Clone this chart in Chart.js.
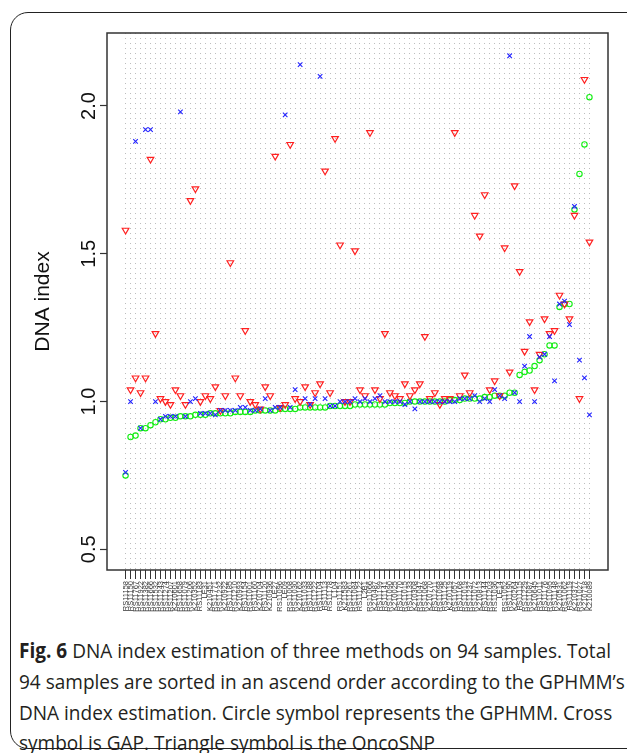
<!DOCTYPE html>
<html>
<head>
<meta charset="utf-8">
<script src="https://cdn.jsdelivr.net/npm/chart.js@4"></script>
<style>
  html, body { margin: 0; padding: 0; background: #fff; overflow: hidden; }
  body { width: 627px; height: 753px; position: relative; }
  #frame {
    position: absolute; left: 10px; top: 12px; width: 700px; height: 737px;
    border: 1.5px solid #222; border-radius: 18px; box-sizing: border-box;
  }
  #chart { position: absolute; left: 0; top: 0; }
  #caption {
    position: absolute; left: 19px; top: 635px;
    font-family: "Open Sans", sans-serif; font-size: 20.5px; line-height: 30.8px;
    color: #231f20; white-space: nowrap; transform-origin: 0 0;
  }
  #caption b { font-weight: 700; }
</style>
</head>
<body>
<div id="frame"></div>
<canvas id="chart" width="627" height="635"></canvas>
<div id="caption">
  <div id="line1"><b>Fig. 6</b> DNA index estimation of three methods on 94 samples. Total</div>
  <div>94 samples are sorted in an ascend order according to the GPHMM’s</div>
  <div>DNA index estimation. Circle symbol represents the GPHMM. Cross</div>
  <div>symbol is GAP. Triangle symbol is the OncoSNP</div>
</div>
<script>
// sample names (x axis), sorted by GPHMM estimate
const sampleNames = [
  'RS11158','RS11150','RS11767','RS11922','RS11382','RS11666','RS11532','RS11243','RS11274','RS11207',
  'K210601','RS11658','RS11079','RS11206','K210352','RS11183','LE31','K210451','RS11771','RS11232',
  'K210922','RS11185','RS11210','K210993','RS11154','RS11001','RS11160','K210704','RS11120','K210936',
  'LE27','RS11096','LE09','RS11008','RS11030','K210162','RS11033','RS11188','RS11222','RS11104',
  'RS11113','RS11178','L104','RS11151','K211583','RS11261','RS11084','RS11122','L2B1','RS11066',
  'K210487','RS11199','RS11141','RS11090','K210025','RS11170','RS11015','RS11133','K210308','RS11047',
  'RS11068','K210770','RS11211','RS11098','RS11125','K210119','RS11057','RS11168','RS11019','RS11237',
  'RS11072','K210813','RS11144','RS11203','RS11036','LE14','RS11052','RS11190','K210264','RS11115',
  'RS11229','RS11087','K210645','RS11011','RS11176','RS11095','RS11148','K210531','RS11062','RS11119',
  'K210377','RS11027','K210718','K210089'
];

// GPHMM (circles)
const gphmm = [
  0.75, 0.88, 0.885, 0.91, 0.91, 0.92, 0.93, 0.94, 0.94, 0.945,
  0.945, 0.95, 0.95, 0.95, 0.955, 0.955, 0.955, 0.96, 0.96, 0.96,
  0.96, 0.96, 0.965, 0.965, 0.965, 0.965, 0.97, 0.97, 0.97, 0.97,
  0.97, 0.975, 0.975, 0.975, 0.975, 0.98, 0.98, 0.98, 0.98, 0.98,
  0.98, 0.985, 0.985, 0.985, 0.985, 0.985, 0.99, 0.99, 0.99, 0.99,
  0.99, 0.99, 0.99, 0.995, 0.995, 0.995, 0.995, 1.0, 1.0, 1.0,
  1.0, 1.0, 1.0, 1.0, 1.0, 1.005, 1.005, 1.005, 1.01, 1.01,
  1.01, 1.01, 1.015, 1.015, 1.02, 1.02, 1.02, 1.03, 1.03, 1.09,
  1.10, 1.105, 1.12, 1.14, 1.16, 1.19, 1.19, 1.32, 1.33, 1.33,
  1.65, 1.77, 1.87, 2.03
];

// GAP (crosses)
const gap = [
  0.76, 1.00, 1.88, 0.91, 1.92, 1.92, 1.00, 0.94, 0.95, 0.95,
  0.95, 1.98, 0.95, 1.00, 1.01, 0.96, 0.96, 0.96, 0.955, 0.97,
  0.97, 0.97, 0.97, 0.98, 0.98, 0.97, 0.97, 0.975, 1.01, 0.97,
  0.98, 0.98, 1.97, 0.98, 1.04, 2.14, 1.01, 0.99, 1.01, 2.10,
  1.01, 0.985, 0.985, 1.00, 1.00, 1.00, 1.01, 1.00, 1.01, 1.00,
  1.01, 1.02, 1.00, 1.00, 1.00, 1.00, 0.99, 1.00, 0.975, 1.00,
  1.00, 1.00, 1.00, 1.00, 1.00, 1.00, 1.00, 1.01, 1.01, 1.01,
  1.02, 1.00, 1.01, 1.00, 1.04, 1.02, 1.01, 2.17, 1.03, 1.00,
  1.12, 1.22, 1.00, 1.15, 1.16, 1.22, 1.07, 1.33, 1.34, 1.26,
  1.66, 1.14, 1.08, 0.955
];

// OncoSNP (triangles)
const oncosnp = [
  1.58, 1.04, 1.08, 1.03, 1.08, 1.82, 1.23, 1.01, 1.00, 0.99,
  1.04, 1.02, 0.99, 1.68, 1.72, 1.00, 1.02, 1.01, 1.05, 0.97,
  1.02, 1.47, 1.08, 1.02, 1.24, 1.00, 0.99, 0.975, 1.05, 1.02,
  1.83, 0.98, 0.99, 1.87, 1.01, 1.00, 1.05, 0.99, 1.03, 1.06,
  1.78, 1.03, 1.89, 1.53, 1.00, 1.00, 1.51, 1.04, 1.02, 1.91,
  1.04, 1.01, 1.23, 1.03, 1.02, 1.01, 1.06, 1.02, 1.04, 1.06,
  1.22, 1.01, 1.03, 0.99, 1.01, 1.01, 1.91, 1.02, 1.09, 1.03,
  1.63, 1.56, 1.70, 1.04, 1.07, 1.02, 1.52, 1.10, 1.73, 1.44,
  1.17, 1.27, 1.04, 1.16, 1.28, 1.23, 1.24, 1.36, 1.33, 1.28,
  1.63, 1.01, 2.09, 1.54
];

const yTicks = [0.5, 1.0, 1.5, 2.0];

const toPoints = arr => arr.map((v, i) => ({ x: i + 1, y: v }));

// R-style box around the plot and rotated y tick labels
const boxAndLabels = {
  id: 'boxAndLabels',
  afterDraw(chart) {
    const { ctx, chartArea } = chart;
    ctx.save();
    ctx.strokeStyle = '#333';
    ctx.lineWidth = 1.5;
    ctx.strokeRect(chartArea.left, chartArea.top, chartArea.right - chartArea.left, chartArea.bottom - chartArea.top);
    ctx.fillStyle = '#111';
    ctx.font = '20px "Liberation Sans", Arial, sans-serif';
    ctx.textAlign = 'center';
    ctx.textBaseline = 'middle';
    yTicks.forEach(v => {
      const y = chart.scales.y.getPixelForValue(v);
      ctx.save();
      ctx.translate(89, y);
      ctx.rotate(-Math.PI / 2);
      ctx.fillText(v.toFixed(1), 0, 0);
      ctx.restore();
    });
    ctx.restore();
  }
};

new Chart(document.getElementById('chart'), {
  type: 'scatter',
  data: {
    datasets: [
      {
        label: 'GAP',
        data: toPoints(gap),
        pointStyle: 'crossRot',
        pointRadius: 3.2,
        borderColor: '#2222ff',
        borderWidth: 1.1,
        order: 0
      },
      {
        label: 'OncoSNP',
        data: toPoints(oncosnp),
        pointStyle: 'triangle',
        rotation: 180,
        pointRadius: 3.8,
        borderColor: '#ff2020',
        backgroundColor: 'rgba(0,0,0,0)',
        borderWidth: 1.2,
        order: 1
      },
      {
        label: 'GPHMM',
        data: toPoints(gphmm),
        pointStyle: 'circle',
        pointRadius: 2.7,
        borderColor: '#11ee11',
        backgroundColor: 'rgba(0,0,0,0)',
        borderWidth: 1.1,
        order: 2
      }
    ]
  },
  options: {
    responsive: false,
    animation: false,
    layout: { padding: { top: 33, right: 19, left: 0, bottom: 0 } },
    plugins: { legend: { display: false }, tooltip: { enabled: false } },
    scales: {
      x: {
        type: 'linear',
        min: -2.72,
        max: 97.72,
        afterBuildTicks: s => { s.ticks = sampleNames.map((n, i) => ({ value: i + 1 })); },
        afterFit: s => { s.height = 65; },
        ticks: {
          autoSkip: false,
          minRotation: 90,
          maxRotation: 90,
          padding: 2,
          color: '#333',
          font: { size: 7.5, family: '"Liberation Sans", Arial, sans-serif' },
          callback: v => sampleNames[v - 1]
        },
        grid: { color: '#bdbdbd', lineWidth: 1, tickColor: '#333', tickLength: 9, tickWidth: 1, tickBorderDash: [] },
        border: { display: false, dash: [1, 4] }
      },
      y: {
        min: 0.43,
        max: 2.247,
        afterBuildTicks: s => { s.ticks = yTicks.map(v => ({ value: v })); },
        afterFit: s => { s.width = 107; },
        ticks: { display: false },
        grid: { drawOnChartArea: false, tickLength: 7, tickColor: '#333', tickWidth: 1.2 },
        border: { display: false },
        title: {
          display: true,
          text: 'DNA index',
          color: '#111',
          font: { size: 21, family: '"Liberation Sans", Arial, sans-serif' },
          padding: { top: 31 }
        }
      }
    }
  },
  plugins: [boxAndLabels]
});

// squeeze caption to the column width of the original
const cap = document.getElementById('caption');
const line1 = document.getElementById('line1');
const r = document.createRange();
r.selectNodeContents(line1);
const w = r.getBoundingClientRect().width;
cap.style.transform = 'scaleX(' + (592 / w) + ')';
</script>
</body>
</html>
